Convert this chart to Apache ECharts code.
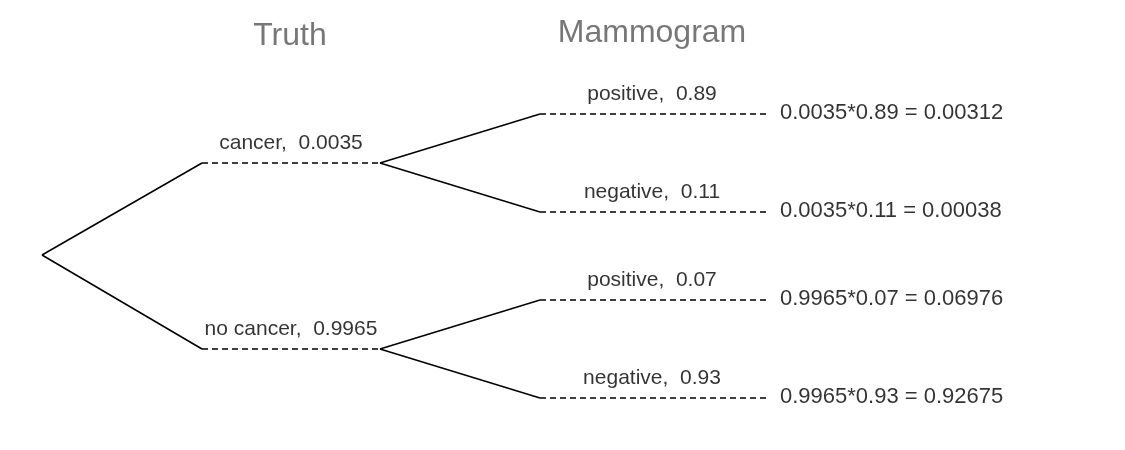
<!DOCTYPE html><html><head><meta charset="utf-8">
<script src="https://cdn.jsdelivr.net/npm/echarts@6/dist/echarts.min.js"></script>
<style>html,body{margin:0;padding:0;background:#fff}#c{width:1125px;height:450px}</style></head><body><div id="c"></div>
<script>
const levelTitles = ["Truth", "Mammogram"];
const truthLabels = ["cancer", "no cancer"];
const truthProbs = ["0.0035", "0.9965"];
const testLabels = ["positive", "negative"];
const testProbs = [["0.89", "0.11"], ["0.07", "0.93"]];
const results = [["0.00312", "0.00038"], ["0.06976", "0.92675"]];

// layout (pixel space)
const X = {root: 42, l1a: 202, l1b: 380, l2a: 540, l2b: 770, res: 780};
const Y1 = [163, 349], root = 255, Y2off = [-49, 49];
const lines = [], labels = [], resLabels = [];
truthLabels.forEach((t, i) => {
  const y = Y1[i];
  lines.push({coords: [[X.root, root], [X.l1a, y]], lineStyle: {type: 'solid'}});
  lines.push({coords: [[X.l1a, y], [X.l1b, y]], lineStyle: {type: [6, 4]}});
  labels.push({value: [(X.l1a + X.l1b) / 2, y - 20], name: t + ",  " + truthProbs[i]});
  testLabels.forEach((s, j) => {
    const y2 = y + Y2off[j];
    lines.push({coords: [[X.l1b, y], [X.l2a, y2]], lineStyle: {type: 'solid'}});
    lines.push({coords: [[X.l2a, y2], [X.l2b, y2]], lineStyle: {type: [6, 4]}});
    labels.push({value: [(X.l2a + X.l2b) / 2 - 3, y2 - 20], name: s + ",  " + testProbs[i][j]});
    resLabels.push({value: [X.res, y2 - 1], name: truthProbs[i] + "*" + testProbs[i][j] + " = " + results[i][j]});
  });
});
const titles = [{value: [290, 36], name: levelTitles[0]}, {value: [652, 33], name: levelTitles[1]}];
const font = 'Liberation Sans, Arial, sans-serif';
const chart = echarts.init(document.getElementById('c'));
chart.setOption({
  animation: false,
  grid: {left: 0, right: 0, top: 0, bottom: 0},
  xAxis: {type: 'value', min: 0, max: 1125, show: false},
  yAxis: {type: 'value', min: 0, max: 450, inverse: true, show: false},
  series: [
    {type: 'lines', coordinateSystem: 'cartesian2d', polyline: false, silent: true,
     lineStyle: {color: '#000', width: 1.5, opacity: 1}, data: lines},
    {type: 'scatter', symbolSize: 0, data: labels,
     label: {show: true, position: 'inside', formatter: p => p.name, color: '#000', fontSize: 21, fontFamily: font, textBorderWidth: 0}},
    {type: 'scatter', symbolSize: 0, data: resLabels,
     label: {show: true, position: 'right', distance: 0, formatter: p => p.name, color: '#000', fontSize: 22, fontFamily: font, textBorderWidth: 0}},
    {type: 'scatter', symbolSize: 0, data: titles,
     label: {show: true, position: 'inside', formatter: p => p.name, color: '#555', fontSize: 32, fontFamily: font, textBorderWidth: 0}}
  ]
});
</script></body></html>
